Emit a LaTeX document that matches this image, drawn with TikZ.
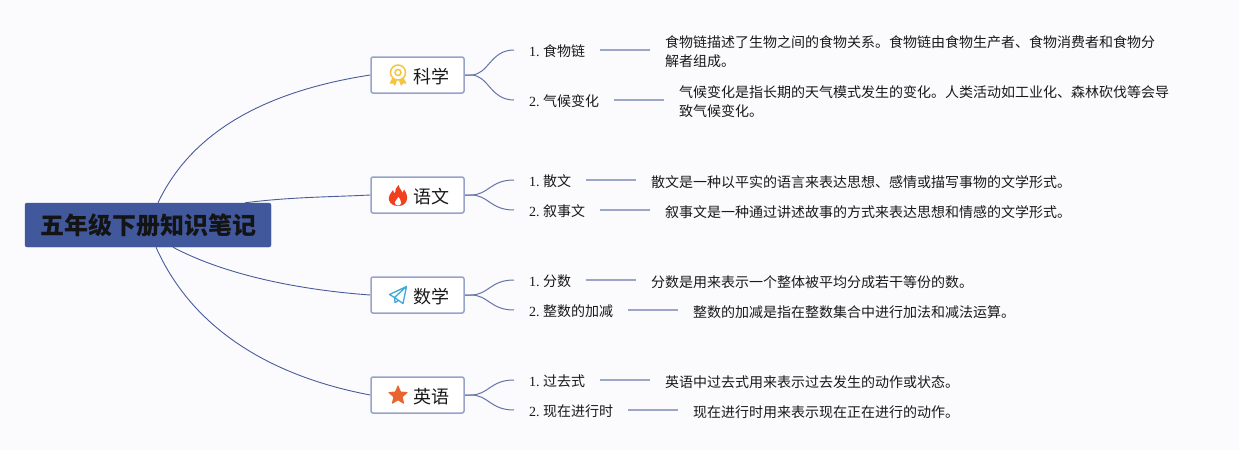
\documentclass[tikz,border=0pt]{standalone}
\usepackage{fontspec}
\setmainfont{Liberation Serif}
\newfontfamily\cjk{Noto Sans CJK SC}
\usetikzlibrary{backgrounds,shapes.geometric}
\definecolor{bgc}{HTML}{FBFBFD}
\definecolor{rootc}{HTML}{41599C}
\definecolor{linec}{HTML}{4A5C9A}
\definecolor{boxc}{HTML}{97A3CB}
\definecolor{leafl}{HTML}{9AA5C8}
\definecolor{medalc}{HTML}{F5C542}
\definecolor{flamec}{HTML}{F0401E}
\definecolor{planec}{HTML}{3FA9DC}
\definecolor{starc}{HTML}{E8652F}
\tikzset{
 rootbox/.style={fill=rootc,draw=rootc,rounded corners=2pt,minimum width=246,minimum height=44,inner sep=0pt,font=\cjk\bfseries\fontsize{24}{28}\selectfont,text=black!92},
 branchbox/.style={fill=white,draw=boxc,line width=1.5pt,rounded corners=2pt,minimum width=93,minimum height=36,inner sep=0pt},
 branchtext/.style={font=\cjk\fontsize{18}{22}\selectfont,text=black!90,inner sep=0pt},
 leaf/.style={anchor=west,inner xsep=15,inner ysep=0pt,font=\fontsize{14}{19}\selectfont,text=black!90},
 desc/.style={anchor=west,inner xsep=15,inner ysep=0pt,align=left,font=\cjk\fontsize{14}{19}\selectfont,text=black!90},
 trunk/.style={draw=linec,line width=0.9pt},
 twig/.style={draw=linec!85,line width=1pt},
 leafline/.style={draw=leafl,line width=1.3pt}
}
\newcommand{\lf}[2]{#1.~{\cjk #2}}
\begin{document}
\begin{tikzpicture}[x=1pt,y=-1pt]
\useasboundingbox (0,0) rectangle (1239,450);
% root
\node[rootbox] (root) at (148,225) {\raisebox{-1pt}{五年级下册知识笔记}};
% branches
\node[branchbox] (b1) at (417.5,75) {};
\node[branchbox] (b2) at (417.5,195) {};
\node[branchbox] (b3) at (417.5,295) {};
\node[branchbox] (b4) at (417.5,395) {};
\node[branchtext] (t1) at (431,76.8) {科学};
\node[branchtext] (t2) at (431,196.8) {语文};
\node[branchtext] (t3) at (431,296.8) {数学};
\node[branchtext] (t4) at (431,396.8) {英语};
% leaves
\node[leaf] (l11) at (514,51.3) {\lf{1}{食物链}};
\node[leaf] (l12) at (514,101.3) {\lf{2}{气候变化}};
\node[leaf] (l21) at (514,181.3) {\lf{1}{散文}};
\node[leaf] (l22) at (514,211.3) {\lf{2}{叙事文}};
\node[leaf] (l31) at (514,281.3) {\lf{1}{分数}};
\node[leaf] (l32) at (514,311.3) {\lf{2}{整数的加减}};
\node[leaf] (l41) at (514,381.3) {\lf{1}{过去式}};
\node[leaf] (l42) at (514,411.3) {\lf{2}{现在进行时}};
% descriptions
\node[desc] (d11) at (650,51.3) {食物链描述了生物之间的食物关系。食物链由食物生产者、食物消费者和食物分\\解者组成。};
\node[desc] (d12) at (664,101.8) {气候变化是指长期的天气模式发生的变化。人类活动如工业化、森林砍伐等会导\\致气候变化。};
\node[desc] (d21) at (636,181.8) {散文是一种以平实的语言来表达思想、感情或描写事物的文学形式。};
\node[desc] (d22) at (650,211.8) {叙事文是一种通过讲述故事的方式来表达思想和情感的文学形式。};
\node[desc] (d31) at (636,281.8) {分数是用来表示一个整体被平均分成若干等份的数。};
\node[desc] (d32) at (678,311.8) {整数的加减是指在整数集合中进行加法和减法运算。};
\node[desc] (d41) at (650,381.8) {英语中过去式用来表示过去发生的动作或状态。};
\node[desc] (d42) at (678,411.8) {现在进行时用来表示现在正在进行的动作。};
% connectors
\begin{scope}[on background layer]
\coordinate (r1) at ([xshift=10]root.north);
\coordinate (r2) at ([xshift=97]root.north);
\coordinate (r3) at ([xshift=25]root.south);
\coordinate (r4) at ([xshift=8]root.south);
\coordinate (e11) at (l11.west |- 0,50);
\coordinate (e12) at (l12.west |- 0,100);
\coordinate (e21) at (l21.west |- 0,180);
\coordinate (e22) at (l22.west |- 0,210);
\coordinate (e31) at (l31.west |- 0,280);
\coordinate (e32) at (l32.west |- 0,310);
\coordinate (e41) at (l41.west |- 0,380);
\coordinate (e42) at (l42.west |- 0,410);
\fill[bgc] (0,0) rectangle (1239,450);
\draw[trunk] (r1) .. controls (190,135) and (260,92) .. (b1.west);
\draw[trunk] (r2) .. controls (290,197) and (330,197) .. (b2.west);
\draw[trunk] (r3) .. controls (225,275) and (300,290) .. (b3.west);
\draw[trunk] (r4) .. controls (195,335) and (280,378) .. (b4.west);
\foreach \b/\u/\d in {b1/e11/e12,b2/e21/e22,b3/e31/e32,b4/e41/e42}{
 \draw[twig] (\b.east) -- ++(6,0) .. controls +(18,0) and ([xshift=-24]\u) .. (\u);
 \draw[twig] (\b.east) -- ++(6,0) .. controls +(18,0) and ([xshift=-24]\d) .. (\d);
}
\end{scope}
\draw[leafline] (l11.east |- e11) -- (d11.west |- e11);
\draw[leafline] (l12.east |- e12) -- (d12.west |- e12);
\draw[leafline] (l21.east |- e21) -- (d21.west |- e21);
\draw[leafline] (l22.east |- e22) -- (d22.west |- e22);
\draw[leafline] (l31.east |- e31) -- (d31.west |- e31);
\draw[leafline] (l32.east |- e32) -- (d32.west |- e32);
\draw[leafline] (l41.east |- e41) -- (d41.west |- e41);
\draw[leafline] (l42.east |- e42) -- (d42.west |- e42);
% icons
\begin{scope}[shift={(398,73.5)}]
 \fill[medalc] (-5.5,4) -- (-8.5,10) -- (-5,10) -- (-3,12.5) -- (-1,7) -- cycle;
 \fill[medalc] (5.5,4) -- (8.5,10) -- (5,10) -- (3,12.5) -- (1,7) -- cycle;
 \draw[fill=white,draw=medalc,line width=1.5pt] (0,-1) circle (7.5);
 \draw[draw=medalc,line width=1.5pt] (0,-1) circle (3);
\end{scope}
\begin{scope}[shift={(398,196)}]
 \fill[flamec] (0.5,-11) .. controls (2,-6) and (4,-6) .. (4.5,-3) .. controls (5.5,-4) and (6,-5) .. (6,-6.5)
  .. controls (8.5,-3) and (10,1) .. (8.5,5) .. controls (7,9) and (3,10) .. (0,10)
  .. controls (-4,10) and (-8,8) .. (-9,4) .. controls (-10,0) and (-7,-3) .. (-5,-6)
  .. controls (-4.5,-4) and (-4,-3) .. (-3,-2.5) .. controls (-3,-6) and (-2,-9) .. (0.5,-11) -- cycle;
 \fill[white] (0.5,1) .. controls (1,3) and (3.5,4) .. (3.2,7) .. controls (3,9) and (1,9.5) .. (0,9.5)
  .. controls (-1.5,9.5) and (-3.2,8.5) .. (-3.2,6.5) .. controls (-3.2,4.5) and (-1,4) .. (0.5,1) -- cycle;
\end{scope}
\begin{scope}[shift={(398,295)},line join=round]
 \draw[draw=planec,line width=1.3pt] (8.5,-8.5) -- (-8.5,-0.5) -- (-3.5,2.5) -- (8.5,-8.5) -- (5,8.5) -- (-3.5,2.5) -- (-3,7.5) -- (0.5,5.5);
\end{scope}
\node[star,star points=5,star point ratio=2.2,fill=starc,draw=starc,line join=round,line width=1pt,minimum size=19pt,inner sep=0pt] (s4) at (398,395.5) {};
\end{tikzpicture}
\end{document}
